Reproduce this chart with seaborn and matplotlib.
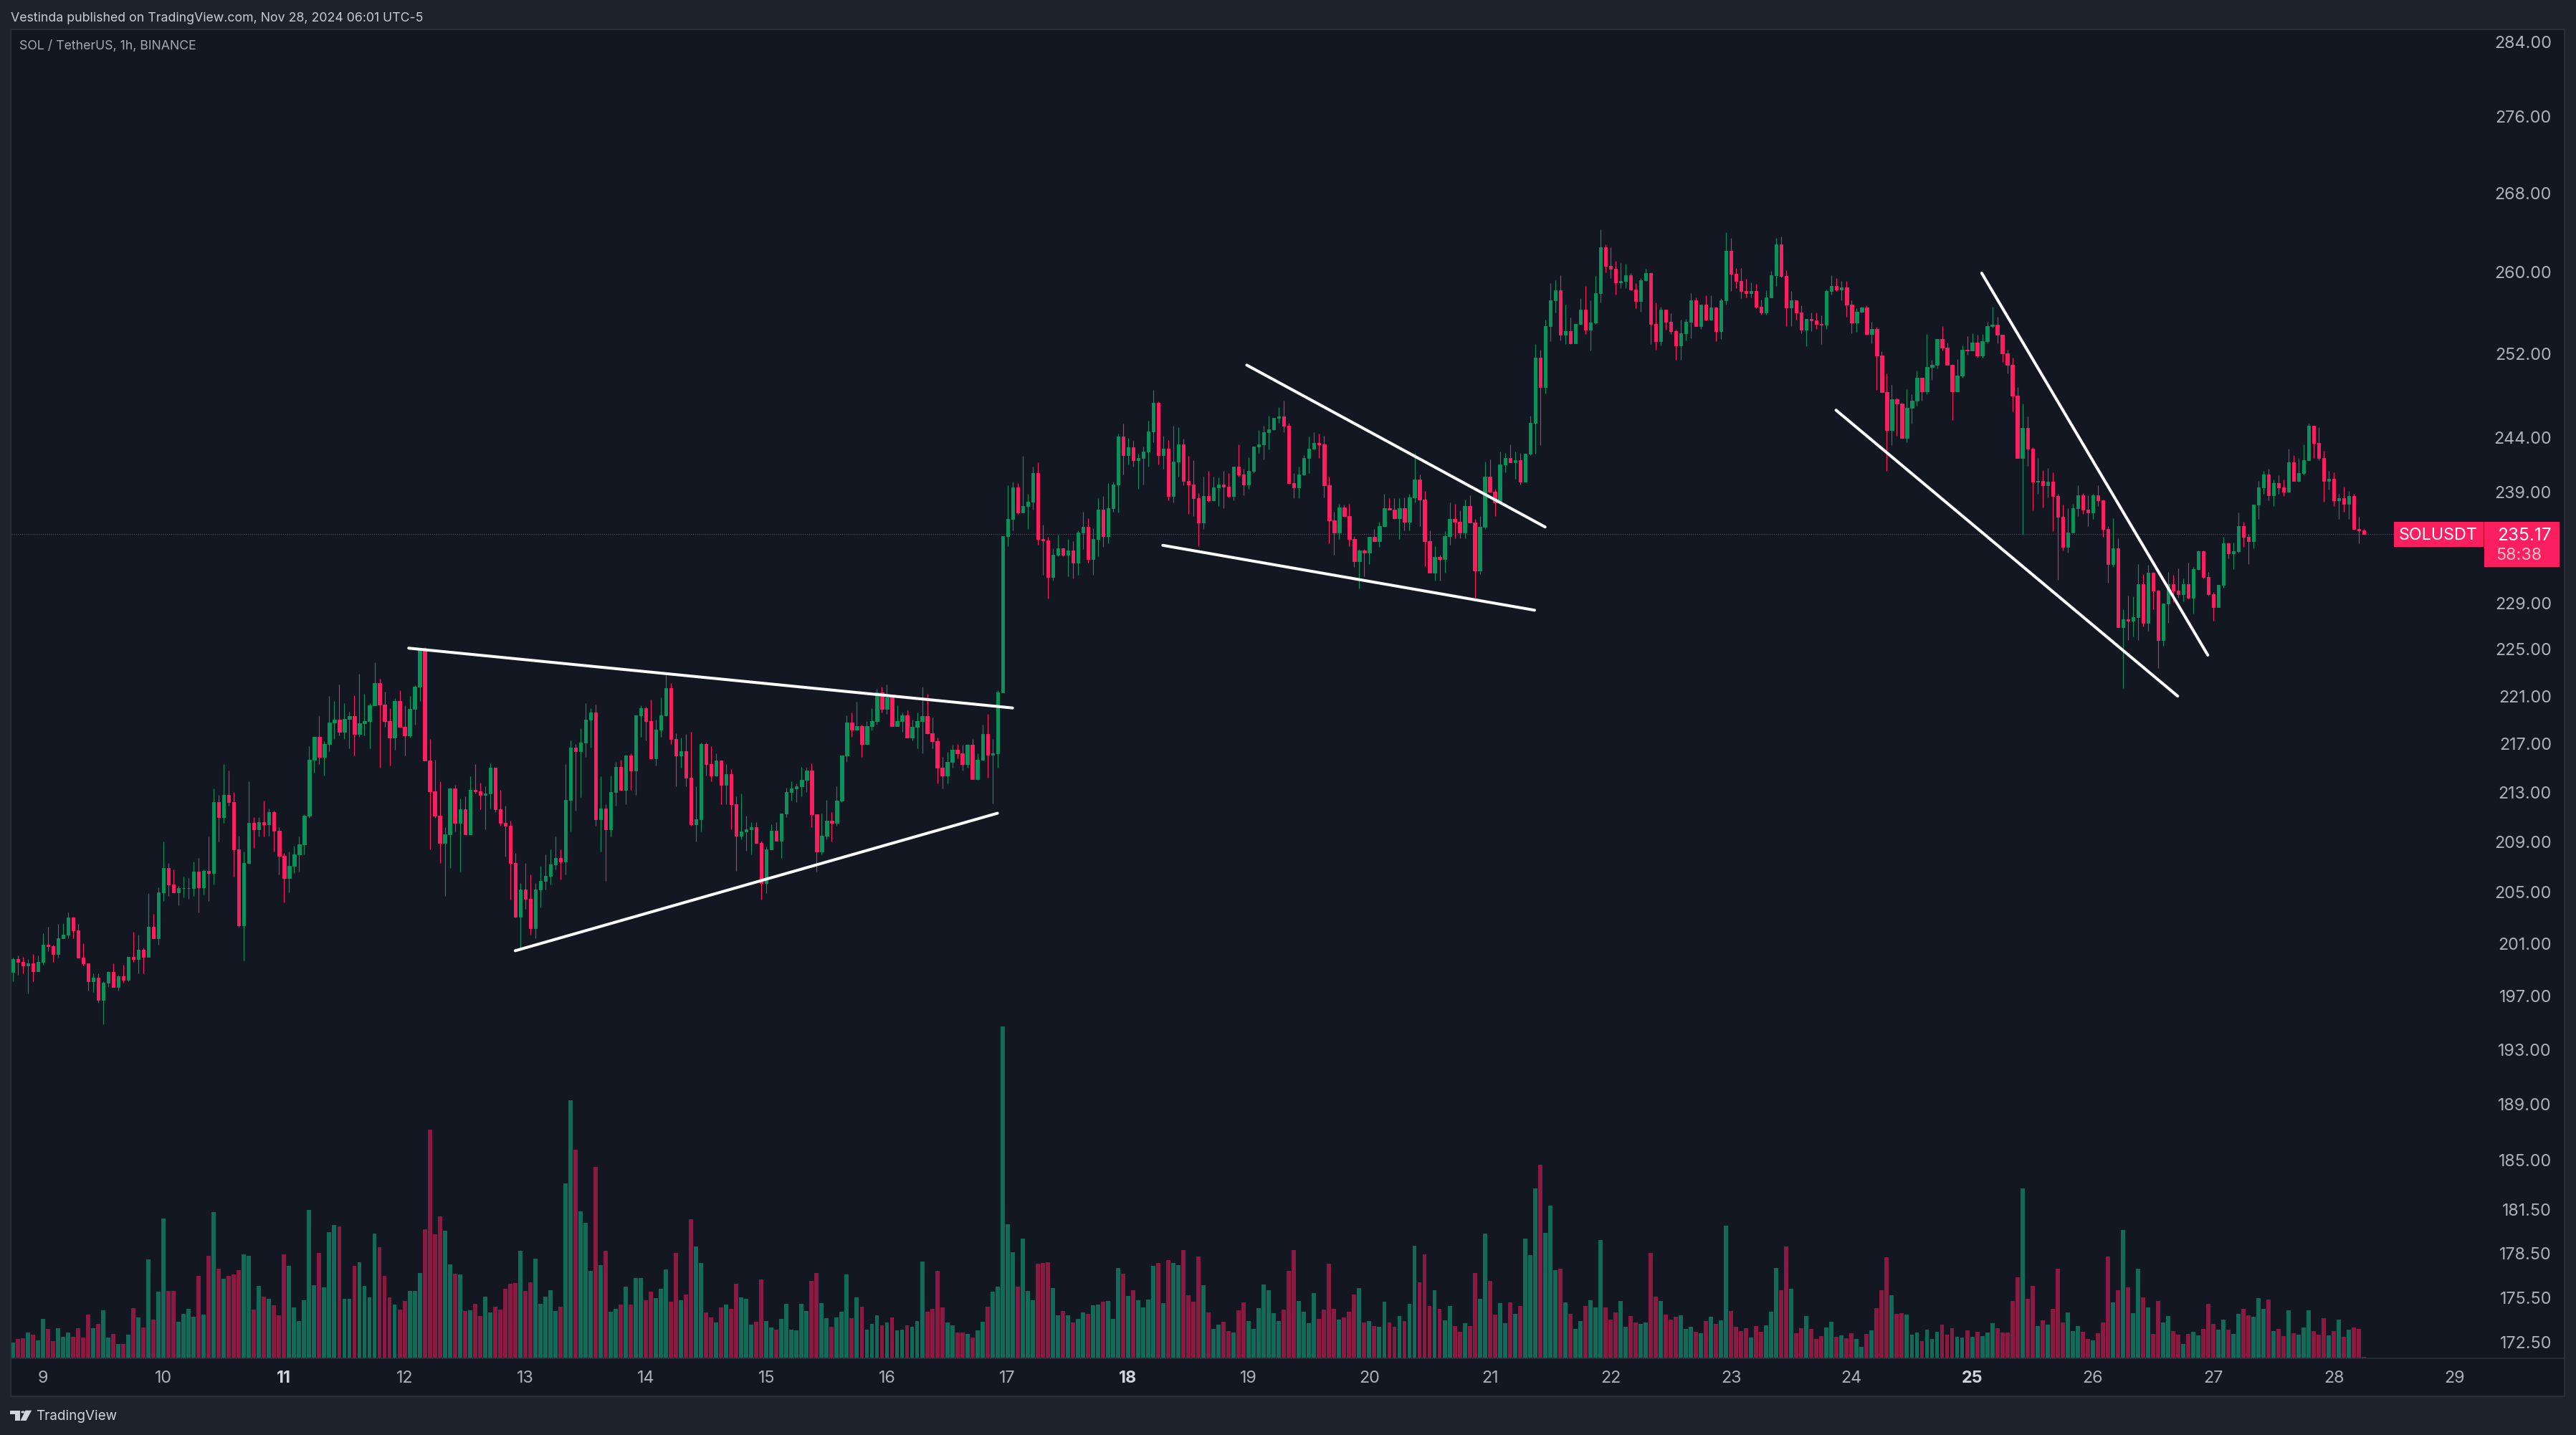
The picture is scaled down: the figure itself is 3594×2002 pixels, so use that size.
import seaborn as sns
import pandas as pd
import matplotlib.pyplot as plt
from matplotlib.patches import Rectangle, Polygon, Circle

# hourly candles, Nov 8 18:00 to Nov 28 06:00
first_open = 198.8
closes = [
    199.8,199.6,199.3,199.5,198.9,199.6,200.9,200.8,200.2,201.4,
    201.7,203.0,202.0,199.9,199.5,198.1,198.4,196.7,198.0,198.8,
    197.7,198.5,198.2,200.0,199.8,200.5,200.0,202.3,201.4,205.0,
    206.9,205.6,205.0,205.3,205.3,205.3,206.6,205.4,206.7,206.5,
    212.2,211.0,212.8,212.2,208.4,202.4,207.3,210.5,210.0,210.6,
    210.4,211.4,209.9,207.9,206.1,207.1,208.0,208.8,211.1,215.7,
    217.6,215.9,217.0,218.8,219.0,218.0,219.1,219.3,217.8,218.7,
    218.9,220.2,222.1,220.3,218.9,217.5,220.6,218.4,217.7,219.9,
    221.8,224.9,215.6,213.1,211.1,208.9,209.6,213.3,210.5,211.6,
    209.6,213.2,213.1,212.8,212.9,215.0,211.6,210.5,210.3,207.3,
    203.1,205.2,204.5,202.2,205.2,205.9,206.3,207.2,207.7,207.4,
    212.4,216.7,216.4,217.1,219.0,219.6,210.8,211.7,210.0,213.0,
    215.1,213.2,216.0,214.8,219.4,220.0,218.9,215.8,218.2,219.4,
    221.7,217.4,216.0,216.4,214.2,210.4,210.8,217.0,215.3,214.4,
    215.6,213.6,214.5,212.0,209.5,209.8,210.0,210.2,208.9,205.7,
    208.4,209.9,209.1,211.3,213.0,213.3,213.5,214.0,214.8,211.2,
    208.2,209.5,210.7,210.5,212.3,216.0,218.8,218.2,218.5,217.0,
    218.5,218.9,221.3,219.9,220.9,218.5,218.9,219.4,217.5,218.4,
    218.9,219.3,217.9,217.2,215.0,214.4,215.5,216.5,216.2,215.3,
    216.9,214.1,215.7,217.8,216.1,216.2,221.3,235.0,236.5,239.4,
    237.1,237.7,238.1,240.7,234.7,234.6,231.3,233.3,233.9,233.3,
    233.7,232.6,235.3,235.8,232.9,234.7,237.4,235.0,237.5,239.7,
    244.1,242.4,243.1,241.9,242.1,242.7,244.6,247.3,242.4,243.0,
    238.6,241.8,243.4,240.0,239.7,238.4,236.2,238.6,238.2,239.4,
    239.7,239.5,238.6,241.3,240.6,239.7,240.9,243.2,243.4,244.5,
    244.8,245.9,246.0,245.1,239.8,239.4,240.6,242.1,243.0,243.5,
    243.4,239.6,236.4,235.3,237.6,236.8,234.7,232.7,233.7,233.5,
    234.9,234.5,235.9,237.5,237.4,236.6,237.5,236.3,238.5,240.1,
    238.3,234.5,231.7,233.1,232.9,235.0,236.5,236.3,235.3,237.7,
    236.2,231.9,235.8,240.4,239.0,238.0,241.5,242.1,241.7,241.9,
    239.9,242.5,245.4,251.6,248.8,254.7,257.2,258.2,253.8,254.2,
    253.0,254.9,256.3,254.3,255.0,257.9,262.5,260.6,260.3,259.0,
    259.1,259.7,258.3,257.1,259.2,259.9,254.9,253.2,256.3,255.1,
    254.2,252.8,254.0,255.1,257.2,254.7,256.8,255.3,256.5,254.2,
    257.2,262.1,259.8,259.1,258.1,257.9,258.1,256.6,256.0,257.5,
    259.7,262.8,259.6,256.5,257.2,256.0,254.3,255.4,255.2,254.9,
    254.8,258.1,258.6,258.3,258.5,256.8,255.0,256.1,256.5,253.9,
    254.4,251.8,248.3,244.7,247.6,247.2,244.0,246.8,247.5,249.7,
    248.4,250.7,250.9,253.4,252.6,250.9,248.4,249.9,252.4,252.3,
    253.1,251.8,253.2,254.7,254.8,253.8,252.0,250.9,248.0,242.1,
    244.9,243.0,239.9,240.0,239.6,239.9,238.6,236.7,234.0,235.3,
    237.5,238.7,237.4,237.1,238.7,238.2,235.6,232.5,233.9,226.9,
    227.6,227.5,227.8,230.7,227.3,231.7,230.1,225.8,229.0,230.7,
    230.1,229.8,230.7,229.5,232.0,233.6,231.3,229.8,228.7,230.6,
    234.3,233.4,233.6,235.9,234.9,234.5,237.8,239.4,240.6,238.7,
    239.8,239.4,239.0,241.7,240.0,240.7,241.9,245.1,243.5,242.1,
    240.0,240.2,238.2,238.4,237.9,238.6,235.6,235.5,235.17,
]
highs = [
    199.9,200.1,200.0,199.8,200.2,200.1,201.8,202.3,200.9,202.5,
    202.6,203.4,203.1,202.5,201.0,199.5,198.7,198.7,198.1,198.9,
    199.5,198.6,199.4,200.0,201.9,201.7,200.7,204.9,203.3,205.4,
    209.0,207.3,206.8,205.5,206.2,206.1,207.4,207.7,206.8,209.4,
    213.3,212.8,215.3,214.8,213.0,209.5,208.2,213.9,211.0,211.0,
    212.3,211.7,211.5,210.2,208.1,208.2,208.7,209.4,211.2,216.8,
    217.6,219.3,217.2,221.0,220.6,222.0,220.4,219.7,221.1,222.9,
    221.2,220.4,223.9,222.5,221.4,220.0,220.8,221.5,220.2,221.0,
    221.9,224.9,225.2,217.4,215.7,213.9,210.2,213.4,213.6,212.5,
    212.7,214.3,215.3,213.8,213.5,215.4,215.0,213.2,211.9,210.7,
    208.1,205.7,207.3,206.4,205.7,207.1,208.0,208.4,209.4,208.4,
    215.3,217.3,217.0,218.3,220.4,220.0,220.3,214.3,212.0,214.4,
    215.5,215.7,216.1,216.2,219.4,220.2,220.1,220.7,219.0,220.9,
    222.8,222.1,217.9,217.5,217.8,218.0,213.5,217.1,217.1,216.8,
    216.2,215.6,215.3,214.9,212.7,212.9,211.1,210.6,210.6,209.1,
    208.6,210.4,210.6,211.3,213.4,213.9,213.7,215.1,215.0,215.4,
    211.2,211.3,212.4,211.4,213.5,216.0,219.4,219.6,220.5,218.6,
    218.9,220.0,221.6,221.8,222.0,221.0,220.2,219.6,219.8,219.0,
    219.6,221.8,221.2,219.2,217.5,215.9,216.3,216.9,217.0,216.9,
    217.0,217.4,216.2,218.6,219.5,217.4,221.5,235.0,239.6,239.9,
    239.8,242.3,238.8,241.3,241.7,236.0,234.9,233.9,235.1,233.9,
    234.7,234.5,235.5,237.2,236.6,235.7,238.4,238.6,239.8,239.9,
    244.4,245.3,244.0,243.7,242.5,243.2,245.6,248.5,247.4,244.2,
    243.8,245.1,245.0,243.9,242.3,241.9,238.9,240.4,240.9,240.4,
    240.3,240.9,240.7,241.3,243.4,241.1,242.2,243.2,244.7,245.1,
    246.1,245.9,246.9,247.5,245.4,240.7,241.3,242.4,244.1,244.5,
    244.4,244.2,240.4,237.2,237.9,237.8,237.9,235.0,233.8,233.8,
    234.9,235.6,236.3,238.8,238.4,238.4,238.4,238.5,238.8,242.6,
    240.6,239.1,235.5,234.1,233.3,235.4,238.0,237.9,237.3,238.3,
    238.7,236.5,236.8,241.8,242.0,239.3,242.7,242.6,243.4,242.7,
    242.6,242.5,246.1,252.9,252.4,255.3,258.9,259.2,259.7,256.8,
    255.5,254.9,257.4,258.6,257.2,259.6,264.3,262.8,262.5,261.1,
    260.9,260.8,259.9,258.9,259.4,260.3,260.0,257.0,256.6,256.3,
    255.9,254.3,255.3,255.4,257.9,257.5,256.8,257.7,257.7,256.6,
    257.4,264.0,263.4,260.4,260.4,259.3,259.0,258.8,257.3,258.2,
    260.1,263.4,263.6,260.2,258.1,257.2,256.7,255.4,256.0,256.0,
    255.7,258.3,259.7,259.4,259.1,259.1,257.2,256.4,256.6,256.7,
    255.1,254.6,252.2,250.1,249.0,247.8,247.3,248.6,248.1,250.4,
    249.7,253.9,251.4,253.4,254.7,253.1,251.0,251.5,252.8,253.7,
    254.0,253.8,253.9,255.1,256.6,255.6,253.8,252.4,251.6,248.8,
    247.2,246.0,243.1,242.1,241.0,241.2,240.8,238.8,237.8,237.5,
    237.9,239.6,238.9,238.7,238.8,239.6,238.3,235.9,236.6,234.8,
    228.5,229.7,229.6,232.5,231.6,232.4,231.8,230.2,229.0,231.8,
    231.5,232.1,231.2,232.6,232.2,233.7,233.7,231.8,230.0,230.6,
    234.9,234.4,234.4,237.1,236.3,235.2,237.8,240.0,240.9,241.1,
    240.1,240.5,240.1,243.0,242.4,242.1,243.4,245.3,245.1,245.0,
    242.8,240.9,240.8,238.8,239.5,239.1,238.8,236.7,235.6,
]
lows = [
    198.1,198.6,198.7,197.2,198.1,198.9,199.4,200.4,199.6,199.9,
    201.4,201.4,201.4,199.9,199.3,197.4,197.3,196.5,194.9,197.7,
    197.7,197.4,198.0,198.1,199.6,198.7,198.7,200.0,201.4,200.9,
    204.3,204.7,205.0,204.0,204.6,204.5,204.7,203.4,204.8,204.3,
    205.6,209.0,210.5,211.9,206.2,202.3,199.7,207.3,208.5,209.4,
    209.4,209.5,208.2,206.4,204.2,205.0,206.5,206.6,208.0,210.9,
    214.6,215.3,214.4,216.4,217.4,217.7,217.4,216.6,216.0,217.6,
    217.7,216.6,220.2,215.0,218.4,215.2,216.5,218.4,216.0,217.5,
    218.6,220.6,215.6,208.4,210.9,207.3,204.7,206.9,209.8,206.6,
    209.6,209.6,212.9,211.6,210.0,211.7,211.4,210.3,207.8,204.4,
    203.0,200.7,203.7,201.7,201.4,203.8,205.2,205.6,206.8,206.0,
    206.4,209.8,211.5,212.6,215.9,216.7,210.3,208.2,205.9,209.4,
    211.9,213.2,212.0,213.2,212.8,217.6,217.3,215.8,215.2,217.6,
    219.3,217.0,213.5,215.0,213.5,210.3,209.0,209.8,214.4,213.9,
    214.3,212.0,212.0,210.0,206.7,209.2,208.3,208.0,208.9,204.4,
    204.9,208.4,209.1,207.7,211.0,212.3,212.2,212.7,213.0,210.2,
    206.6,208.0,209.2,209.0,210.3,212.2,215.5,217.6,218.1,215.9,
    217.0,218.1,218.6,219.6,219.5,218.5,218.5,218.0,217.5,217.3,
    216.6,216.2,217.8,216.6,213.7,213.3,213.7,215.0,215.8,214.8,
    215.0,214.1,214.0,215.6,214.2,212.1,215.0,221.3,234.1,235.5,
    237.0,237.1,235.6,237.4,234.2,231.5,229.4,231.0,233.2,233.2,
    231.4,231.2,231.5,233.8,232.6,231.5,233.2,234.0,234.3,237.2,
    237.1,240.6,241.5,241.3,239.3,239.7,241.3,243.6,241.5,241.1,
    238.2,238.0,240.4,239.6,237.0,236.8,234.1,235.6,238.1,238.2,
    237.7,237.5,238.5,238.2,240.4,238.7,239.3,240.7,242.6,242.0,
    242.9,244.7,245.4,244.5,239.8,238.4,238.4,240.5,240.7,242.9,
    242.1,238.5,234.3,233.3,234.7,236.8,234.1,232.2,230.3,231.4,
    232.5,234.5,234.0,235.8,237.4,236.5,234.7,235.5,235.5,238.0,
    235.9,232.3,231.7,231.0,231.0,231.7,234.2,234.8,234.8,234.8,
    236.2,229.5,231.6,235.6,239.0,236.8,238.0,240.8,241.7,240.2,
    239.7,239.9,242.4,242.5,243.3,248.2,253.2,256.0,253.3,252.9,
    252.9,253.0,254.8,253.9,252.3,254.9,257.0,260.0,259.4,257.8,
    258.4,258.4,258.2,256.4,256.1,259.1,252.9,252.4,252.8,254.3,
    253.9,251.4,251.4,253.3,253.5,254.7,254.4,255.3,255.3,253.2,
    253.4,256.8,258.1,258.4,257.4,257.5,257.5,256.4,255.8,255.8,
    257.5,258.6,259.5,254.7,254.7,255.3,254.0,252.7,254.2,254.4,
    252.9,254.4,257.8,258.1,257.2,255.6,254.0,254.1,256.0,253.8,
    253.0,248.5,248.3,240.9,243.3,244.2,244.0,243.6,245.3,247.0,
    247.5,248.1,249.5,250.6,252.3,250.9,245.7,248.4,249.7,251.9,
    252.3,251.6,251.6,253.0,254.5,253.0,251.2,250.1,246.5,242.1,
    235.1,241.4,237.3,238.8,237.6,238.5,235.4,231.1,233.7,233.5,
    237.1,236.8,237.0,235.9,236.5,237.7,234.9,230.8,232.2,226.9,
    221.7,225.8,226.1,225.8,227.0,226.6,228.5,223.4,225.3,227.3,
    229.1,229.5,229.2,229.4,228.1,232.0,231.2,229.7,227.5,228.7,
    230.4,233.0,232.0,233.5,234.0,232.5,233.9,236.5,238.8,238.2,
    237.7,238.8,238.6,239.0,240.0,239.9,240.6,241.9,242.1,241.9,
    238.1,239.2,237.7,236.5,237.2,236.5,235.6,234.3,235.1,
]
volumes = [
    22,27,28,36,33,25,55,41,24,42,30,36,30,42,29,61,42,48,67,29,
    34,20,20,33,70,57,43,138,54,93,195,94,94,51,62,69,58,115,61,143,
    204,125,111,115,117,123,145,143,68,101,86,83,74,60,145,129,71,52,81,207,
    102,147,99,176,186,184,83,83,129,134,101,85,174,155,115,85,75,68,80,94,
    94,119,180,319,173,198,178,131,118,117,66,67,76,59,86,64,72,68,97,104,
    105,150,94,106,139,76,86,95,66,72,244,360,291,205,189,122,267,130,150,65,
    69,75,100,75,112,112,81,93,84,97,124,79,147,81,89,194,156,133,64,57,
    50,71,75,69,104,85,83,47,51,110,52,43,40,55,76,40,39,76,66,108,
    119,77,56,44,57,65,117,56,85,72,40,48,60,46,50,57,39,40,46,44,
    52,135,65,69,122,71,50,46,36,36,34,29,39,51,72,93,100,463,187,148,
    100,167,94,81,132,133,134,98,60,66,60,50,55,64,62,74,75,79,80,55,
    126,118,87,95,81,71,82,129,133,77,137,133,130,151,88,79,142,102,64,41,
    47,51,38,36,67,78,52,41,70,103,95,63,52,68,122,151,80,65,49,91,
    55,68,132,69,54,57,65,89,98,50,52,45,44,79,50,44,59,52,76,157,
    106,145,73,95,69,53,73,45,37,49,45,119,83,174,108,61,77,49,78,62,
    73,167,144,237,270,175,213,123,125,78,62,41,52,73,81,71,165,71,54,64,
    80,44,59,50,48,50,147,86,80,61,54,58,60,41,44,37,35,52,58,48,
    53,185,66,44,38,42,29,45,37,46,65,126,95,156,97,35,42,59,41,27,
    31,43,51,30,32,28,35,27,16,34,39,70,95,141,88,62,63,61,33,36,
    24,40,27,37,47,33,42,30,29,39,30,37,31,36,49,42,36,36,80,113,
    237,83,101,45,53,47,69,125,50,64,38,45,37,27,25,35,50,142,78,95,
    179,99,63,125,85,71,34,80,50,59,38,33,20,34,37,32,41,76,48,40,
    54,40,34,62,69,60,58,84,69,82,38,41,31,67,35,33,43,67,38,33,
    56,32,38,54,30,40,43,41,2,
]

day_labels = [str(d) for d in range(9, 30)]
bold_days = ["11", "18", "25"]
price_ticks = [284, 276, 268, 260, 252, 244, 239, 229, 225, 221, 217, 213,
               209, 205, 201, 197, 193, 189, 185, 181.5, 178.5, 175.5, 172.5]

# trend lines drawn on the chart: (hour index, price) at both ends
trendlines = [
    ((78.8, 225.1), (199.0, 220.0)),
    ((100.0, 200.45), (196.0, 211.3)),
    ((228.9, 234.15), (302.9, 228.4)),
    ((245.6, 250.9), (305.0, 235.8)),
    ((362.9, 246.6), (430.9, 221.0)),
    ((391.9, 259.9), (436.9, 224.5)),
]

W, H = 3594, 2002
OUTER = "#1e222d"
PANE = "#131722"
BORDER = "#2a2e39"
GREEN = "#0b9159"
RED = "#fb1f60"
VOL_GREEN = "#126a59"
VOL_RED = "#8a1a42"
TICK = "#aeb1ba"

opens = [first_open] + closes[:-1]
df = pd.DataFrame({"hour": range(len(closes)), "open": opens, "high": highs,
                   "low": lows, "close": closes, "volume": volumes})
df["dir"] = ["up" if c >= o else "down" for c, o in zip(df["close"], df["open"])]

sns.set_theme(style="dark", rc={"axes.grid": False})
plt.rcParams["font.family"] = ["Inter", "DejaVu Sans"]

fig = plt.figure(figsize=(W / 100, H / 100), dpi=100, facecolor=OUTER)


# screen pixels of the reference, top left origin -> figure fraction
def fx(x):
    return x / W


def fy(y):
    return 1 - y / H


def px_rect(x0, y0, x1, y1, **kw):
    r = Rectangle((fx(x0), fy(y1)), (x1 - x0) / W, (y1 - y0) / H,
                  transform=fig.transFigure, **kw)
    fig.add_artist(r)


px_rect(15, 41, 3578, 1948, facecolor=PANE, edgecolor=BORDER, lw=1.5, zorder=-1)

rect = [fx(16), fy(1895), (3578 - 16) / W, (1895 - 41) / H]
ax_vol = fig.add_axes(rect, facecolor="none")
ax = fig.add_axes(rect, facecolor="none")

# volume bars at the bottom of the pane
sns.barplot(data=df, x="hour", y="volume", hue="dir", native_scale=True,
            palette={"up": VOL_GREEN, "down": VOL_RED}, dodge=False, width=0.84,
            saturation=1, errorbar=None, legend=False, linewidth=0, edgecolor="none", ax=ax_vol)
ax_vol.set_xlim(-0.26, 507.9)
ax_vol.set_ylim(0, 1854)
ax_vol.axis("off")

# candles
ax.set_yscale("log")
colors = [GREEN if d == "up" else RED for d in df["dir"]]
ax.vlines(df["hour"], df["low"], df["high"], colors=colors, lw=0.8, zorder=2)
ax.bar(df["hour"], (df["close"] - df["open"]).abs(),
       bottom=df[["open", "close"]].min(axis=1), width=0.62,
       color=colors, edgecolor=colors, linewidth=0.7, zorder=3)

# last price line
last = closes[-1]
ax.plot([-0.26, 474], [last, last], ls=(0, (1, 1.6)), lw=0.8, color=RED, alpha=0.75, zorder=1)

for (x0, y0), (x1, y1) in trendlines:
    ax.plot([x0, x1], [y0, y1], color="white", lw=2.9, solid_capstyle="round", zorder=4)

ax.set_xlim(-0.26, 507.9)
ax.set_ylim(171.46, 285.35)

# axes ticks
day_pos = [6 + 24 * i for i in range(len(day_labels))]
ax.set_xticks(day_pos)
ax.set_xticklabels(day_labels)
ax.tick_params(axis="x", length=0, pad=12, labelsize=16.8, colors=TICK)
for t in ax.get_xticklabels():
    if t.get_text() in bold_days:
        t.set_fontweight("bold")
        t.set_color("#d1d4dc")

ax.yaxis.tick_right()
ax.set_yticks(price_ticks)
ax.set_yticklabels([f"{p:.2f}" for p in price_ticks])
ax.minorticks_off()
ax.tick_params(axis="y", length=0, pad=-13, labelsize=16.8, colors=TICK)
for t in ax.get_yticklabels():
    t.set_ha("right")

for name, sp in ax.spines.items():
    sp.set_visible(name == "bottom")
ax.spines["bottom"].set_color(BORDER)
ax.spines["bottom"].set_linewidth(1.2)

# last price labels
px_rect(3340, 728, 3465, 763, facecolor=RED, edgecolor="none", zorder=2)
px_rect(3466, 728, 3571, 791, facecolor=RED, edgecolor="none", zorder=2)
fig.text(fx(3402), fy(747), "SOLUSDT", color="white", fontsize=16.8, ha="center", va="center", zorder=3)
fig.text(fx(3560), fy(747), f"{last:.2f}", color="white", fontsize=17.6, ha="right", va="center", zorder=3)
fig.text(fx(3482), fy(775), "58:38", color="#ffc0d2", fontsize=16.8, ha="left", va="center", zorder=3)

# header and footer
fig.text(fx(15), fy(25), "Vestinda published on TradingView.com, Nov 28, 2024 06:01 UTC-5",
         color="#c9ccd5", fontsize=12.75, ha="left", va="center")
fig.text(fx(27), fy(65), "SOL / TetherUS, 1h, BINANCE", color="#a6a9b3", fontsize=12.75, ha="left", va="center")
fig.text(fx(50), fy(1976), "TradingView", color="#d1d4dc", fontsize=13.6, ha="left", va="center")

# logo
px_rect(14.4, 1967.7, 27.5, 1972.7, facecolor="#d1d4dc", edgecolor="none")
px_rect(20.7, 1967.7, 27.5, 1982, facecolor="#d1d4dc", edgecolor="none")
fig.add_artist(Circle((fx(32), fy(1970)), 2.7 / W, transform=fig.transFigure, facecolor="#d1d4dc", edgecolor="none"))
fig.add_artist(Polygon([(fx(35.5), fy(1967.7)), (fx(44.2), fy(1967.7)), (fx(36.5), fy(1982)), (fx(28.5), fy(1982))],
                       transform=fig.transFigure, facecolor="#d1d4dc", edgecolor="none"))

fig.savefig("out.png", dpi=100, facecolor=OUTER)
